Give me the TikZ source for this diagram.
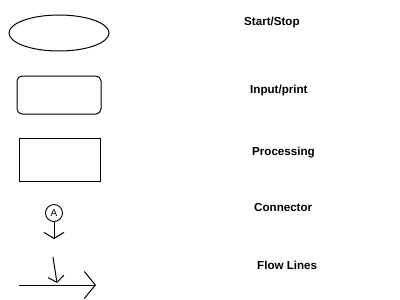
\documentclass[tikz,border=0pt]{standalone}
\usepackage{fontspec}
\setmainfont{Liberation Sans}
\usetikzlibrary{arrows.meta,positioning,shapes.geometric}
\tikzset{
    term/.style={ellipse,draw,line width=1pt,minimum width=100pt,minimum height=36pt,inner sep=0pt},
    io/.style={rectangle,draw,rounded corners=5pt,line width=1pt,minimum width=84pt,minimum height=38pt,inner sep=0pt},
    proc/.style={rectangle,draw,line width=1pt,minimum width=81pt,minimum height=43pt,inner sep=0pt},
    conn/.style={circle,draw,line width=0.9pt,minimum size=17pt,inner sep=0pt,font=\fontsize{10}{10}\selectfont},
    lbl/.style={anchor=west,inner sep=0pt,font=\bfseries\fontsize{11.6}{13}\selectfont},
    flow/.style={line width=1pt}
}

\begin{document}
\begin{tikzpicture}[x=1pt,y=-1pt]
    \useasboundingbox (0,0) rectangle (400,300);
    % symbols
    \node[term] (start) at (59,33) {};
    \node[io] (input) at (59,95) {};
    \node[proc] (process) at (59.5,159.5) {};
    \node[conn] (cA) at (54,213) {A};
    \coordinate (cA-tip) at (54,239);
    \coordinate (fl-top) at (53,257);
    \coordinate (fl-tip) at (57,283);
    \coordinate (fl-start) at (19,285);
    \coordinate (fl-end) at (96,285);

    % labels
    \node[lbl] (l-start) at (244,22) {Start/Stop};
    \node[lbl] (l-input) at (250,90) {Input/print};
    \node[lbl] (l-process) at (252,153) {Processing};
    \node[lbl] (l-conn) at (254,208) {Connector};
    \node[lbl] (l-flow) at (257,265) {Flow Lines};

    \draw[flow,-{Straight Barb[length=6pt,width=20pt]}] (cA) -- (cA-tip);
    \draw[flow,-{Straight Barb[length=6pt,width=16pt]}] (fl-top) -- (fl-tip);
    \draw[flow,-{Straight Barb[length=11pt,width=27pt]}] (fl-start) -- (fl-end);
\end{tikzpicture}
\end{document}
